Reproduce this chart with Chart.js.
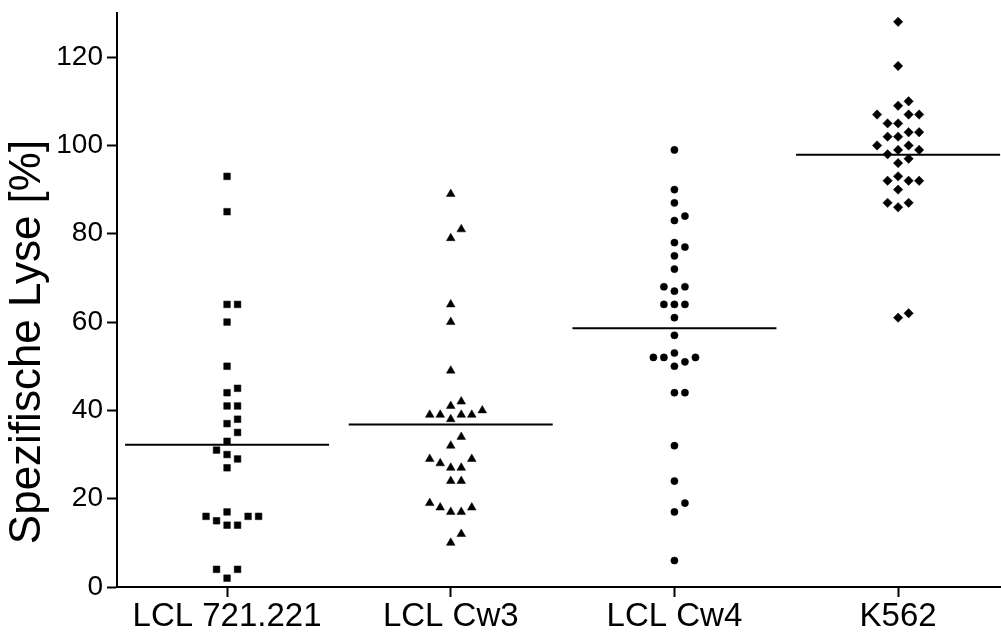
<!DOCTYPE html>
<html>
<head>
<meta charset="utf-8">
<title>Spezifische Lyse</title>
<script src="https://cdn.jsdelivr.net/npm/chart.js"></script>
<style>
  html, body { margin: 0; padding: 0; background: #fff; }
  #lyse-chart { display: block; }
</style>
</head>
<body>
<canvas id="lyse-chart" width="1001" height="633"></canvas>
<script>
// target cell lines on the x axis
const categories = ['LCL 721.221', 'LCL Cw3', 'LCL Cw4', 'K562'];

// specific lysis per donor, in %
const lcl721 = [93, 85, 64, 64, 60, 50, 45, 44, 41, 41, 38, 37, 35, 33, 31, 30, 29, 27,
                17, 16, 16, 16, 15, 14, 14, 4, 4, 2];
const lclCw3 = [89, 81, 79, 64, 60, 49, 42, 41, 40, 39, 39, 39, 39, 38, 34, 32, 29, 29,
                28, 27, 27, 24, 24, 19, 18, 18, 17, 17, 12, 10];
const lclCw4 = [99, 90, 87, 84, 83, 78, 77, 75, 72, 68, 68, 67, 64, 64, 64, 61, 57, 53,
                52, 52, 52, 51, 50, 44, 44, 32, 24, 19, 17, 6];
const k562 = [128, 118, 110, 109, 107, 107, 107, 105, 105, 103, 103, 102, 102, 100, 100,
              99, 99, 98, 97, 96, 93, 92, 92, 92, 90, 87, 87, 86, 62, 61];

// group means drawn as horizontal bars
const groupMeans = [32.2, 36.8, 58.6, 97.9];

const yTicks = [0, 20, 40, 60, 80, 100, 120];

const FONT = '"Liberation Sans", Arial, Helvetica, sans-serif';

// spread points sideways so close values don't overlap (simple beeswarm)
function swarm(values, center) {
  const slot = 0.047;  // column step in x units
  const gap = 2.7;     // min distance of two points in one column, in %
  const placed = [];
  values.slice().sort((a, b) => a - b).forEach(v => {
    for (let k = 0; ; k++) {
      const col = k === 0 ? 0 : (k % 2 ? (k + 1) / 2 : -k / 2);
      if (!placed.some(p => p.col === col && Math.abs(p.y - v) < gap)) {
        placed.push({ col: col, y: v });
        break;
      }
    }
  });
  return placed.map(p => ({ x: center + p.col * slot, y: p.y }));
}

const groups = [
  { values: lcl721, style: 'rect', radius: 4.7 },
  { values: lclCw3, style: 'triangle', radius: 5 },
  { values: lclCw4, style: 'circle', radius: 3.6 },
  { values: k562, style: 'rectRot', radius: 4.7 }
];

const datasets = [];
groups.forEach((g, i) => {
  datasets.push({
    label: categories[i],
    data: swarm(g.values, i + 1),
    pointStyle: g.style,
    pointRadius: g.radius,
    backgroundColor: '#000',
    borderColor: '#000',
    borderWidth: 0.5,
    showLine: false
  });
});
groupMeans.forEach((m, i) => {
  datasets.push({
    label: categories[i] + ' Mittelwert',
    data: [{ x: i + 1 - 0.456, y: m }, { x: i + 1 + 0.456, y: m }],
    showLine: true,
    pointRadius: 0,
    borderColor: '#000',
    borderWidth: 2
  });
});

// rotated y axis title
const yTitle = {
  id: 'yTitle',
  afterDraw(chart) {
    const ctx = chart.ctx;
    ctx.save();
    ctx.translate(28, 342);
    ctx.rotate(-Math.PI / 2);
    ctx.font = '44px ' + FONT;
    ctx.fillStyle = '#000';
    ctx.textAlign = 'center';
    ctx.textBaseline = 'middle';
    ctx.fillText('Spezifische Lyse [%]', 0, 0);
    ctx.restore();
  }
};

new Chart(document.getElementById('lyse-chart'), {
  type: 'scatter',
  data: { datasets: datasets },
  options: {
    responsive: false,
    animation: false,
    devicePixelRatio: 1,
    layout: { autoPadding: false, padding: { top: 13, right: 0, left: 0, bottom: 0 } },
    plugins: { legend: { display: false }, tooltip: { enabled: false } },
    scales: {
      x: {
        type: 'linear',
        min: 0.508,
        max: 4.46,
        afterBuildTicks: s => { s.ticks = categories.map((c, i) => ({ value: i + 1 })); },
        afterFit: s => { s.height = 46; s.paddingLeft = 0; s.paddingRight = 0; },
        ticks: {
          callback: v => categories[v - 1],
          color: '#000',
          font: { family: FONT, size: 33 },
          padding: 0,
          maxRotation: 0,
          autoSkip: false
        },
        grid: { drawOnChartArea: false, drawTicks: true, tickLength: 10, tickColor: '#000', tickWidth: 2 },
        border: { display: true, color: '#000', width: 2 }
      },
      y: {
        min: 0,
        max: 130,
        afterBuildTicks: s => { s.ticks = yTicks.map(v => ({ value: v })); },
        afterFit: s => { s.width = 117; s.paddingTop = 0; s.paddingBottom = 0; },
        ticks: {
          color: '#000',
          font: { family: FONT, size: 28 },
          padding: 4
        },
        grid: { drawOnChartArea: false, drawTicks: true, tickLength: 10, tickColor: '#000', tickWidth: 2 },
        border: { display: true, color: '#000', width: 2 }
      }
    }
  },
  plugins: [yTitle]
});
</script>
</body>
</html>
